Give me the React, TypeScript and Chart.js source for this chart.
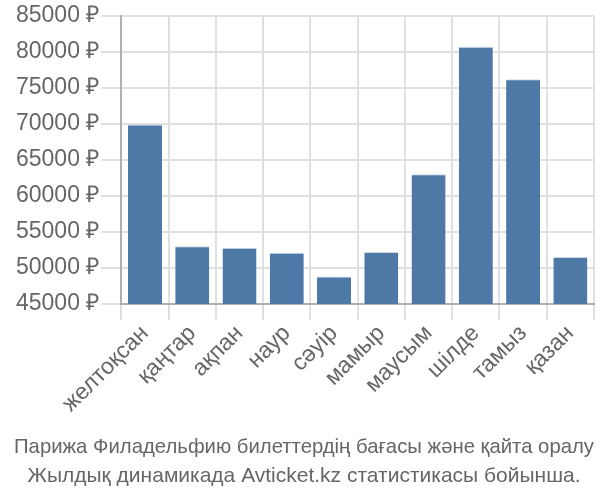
import React, { useEffect, useRef } from "react";
import { Chart, registerables } from "chart.js";

Chart.register(...registerables);

const months = ["желтоқсан", "қаңтар", "ақпан", "наур", "сәуір", "мамыр", "маусым", "шілде", "тамыз", "қазан"];
const prices = [69900, 53000, 52800, 52100, 48800, 52200, 63000, 80700, 76200, 51500];
const titleLines = [
  "Парижа Филадельфию билеттердің бағасы және қайта оралу",
  "Жылдық динамикада Avticket.kz статистикасы бойынша.",
];
const yMin = 45000;
const yMax = 85000;
const yStep = 5000;

export default function App() {
  const ref = useRef<HTMLCanvasElement>(null);
  useEffect(() => {
    document.body.style.margin = "0";
    const chart = new Chart(ref.current!, {
      type: "bar",
      data: {
        labels: months,
        datasets: [
          {
            data: prices,
            backgroundColor: "#4e79a7",
            borderColor: "rgba(200,215,235,0.9)",
            borderWidth: { top: 1, left: 0, right: 0, bottom: 0 } as any,
          },
        ],
      },
      options: {
        animation: false,
        responsive: false,
        layout: { padding: { top: 4, right: 6, left: 14, bottom: 10 } },
        plugins: {
          legend: { display: false },
          tooltip: { enabled: false },
          title: {
            display: true,
            position: "bottom",
            text: titleLines,
            color: "#666",
            font: { family: "'Liberation Sans', sans-serif", size: 21, weight: "normal", lineHeight: 1.36 },
            padding: { top: 15, bottom: 0 },
          },
        },
        scales: {
          x: {
            grid: { color: "#e0e0e0", lineWidth: 2, tickLength: 16, offset: true },
            border: { color: "#b0b0b0", width: 2 },
            ticks: {
              color: "#666",
              font: { family: "'Liberation Sans', sans-serif", size: 23 },
              minRotation: 45,
              maxRotation: 45,
              padding: 0,
            },
          },
          y: {
            min: yMin,
            max: yMax,
            grid: { color: "#e0e0e0", lineWidth: 2, tickLength: 20 },
            border: { color: "#b0b0b0", width: 2 },
            ticks: {
              stepSize: yStep,
              color: "#666",
              font: { family: "'Liberation Sans', sans-serif", size: 23 },
              padding: 2,
              callback: (v: any) => v + " ₽",
            },
          },
        },
      },
    });
    return () => chart.destroy();
  }, []);
  return (
    <div style={{ width: 600, height: 500 }}>
      <canvas ref={ref} width={600} height={500} />
    </div>
  );
}
